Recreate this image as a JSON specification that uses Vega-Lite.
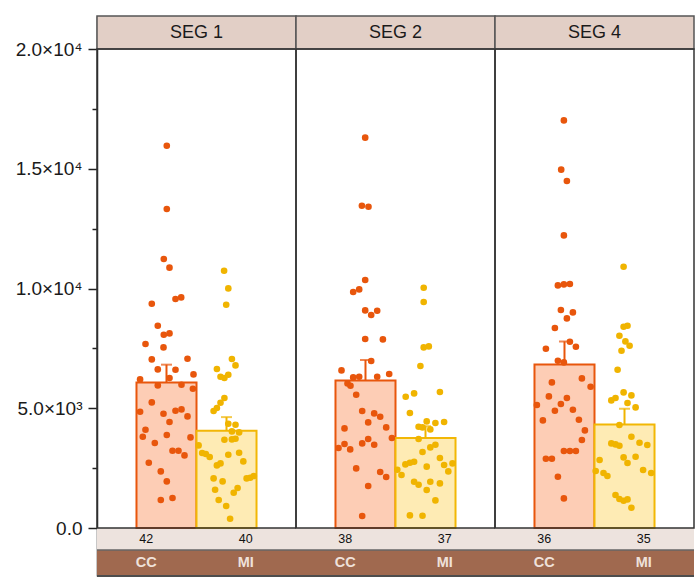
{
  "$schema": "https://vega.github.io/schema/vega-lite/v6.json",
  "padding": {"left": 15, "top": 15, "right": 2, "bottom": 5},
  "background": "white",
  "config": {"view": {"stroke": null}, "font": "Liberation Sans"},
  "data": {"values": [
    {"k":"s","seg":"SEG 1","g":"CC","mean":6080,"top":6820,"n":42},
    {"k":"s","seg":"SEG 1","g":"MI","mean":4060,"top":4630,"n":40},
    {"k":"s","seg":"SEG 2","g":"CC","mean":6163,"top":7015,"n":38},
    {"k":"s","seg":"SEG 2","g":"MI","mean":3758,"top":4250,"n":37},
    {"k":"s","seg":"SEG 4","g":"CC","mean":6832,"top":7791,"n":36},
    {"k":"s","seg":"SEG 4","g":"MI","mean":4326,"top":4981,"n":35},
    {"k":"p","seg":"SEG 1","g":"CC","v":15962,"j":0.01},{"k":"p","seg":"SEG 1","g":"CC","v":13319,"j":0.01},{"k":"p","seg":"SEG 1","g":"CC","v":11232,"j":-0.09},{"k":"p","seg":"SEG 1","g":"CC","v":10869,"j":0.1},{"k":"p","seg":"SEG 1","g":"CC","v":9365,"j":-0.49},{"k":"p","seg":"SEG 1","g":"CC","v":9562,"j":0.3},{"k":"p","seg":"SEG 1","g":"CC","v":9629,"j":0.49},{"k":"p","seg":"SEG 1","g":"CC","v":8447,"j":-0.29},{"k":"p","seg":"SEG 1","g":"CC","v":8071,"j":-0.09},{"k":"p","seg":"SEG 1","g":"CC","v":8125,"j":0.1},{"k":"p","seg":"SEG 1","g":"CC","v":7683,"j":-0.7},{"k":"p","seg":"SEG 1","g":"CC","v":7541,"j":-0.1},{"k":"p","seg":"SEG 1","g":"CC","v":7040,"j":-0.49},{"k":"p","seg":"SEG 1","g":"CC","v":7069,"j":0.7},{"k":"p","seg":"SEG 1","g":"CC","v":6622,"j":-0.29},{"k":"p","seg":"SEG 1","g":"CC","v":6610,"j":0.3},{"k":"p","seg":"SEG 1","g":"CC","v":6413,"j":0.9},{"k":"p","seg":"SEG 1","g":"CC","v":6205,"j":-0.88},{"k":"p","seg":"SEG 1","g":"CC","v":6263,"j":0.1},{"k":"p","seg":"SEG 1","g":"CC","v":5954,"j":-0.29},{"k":"p","seg":"SEG 1","g":"CC","v":5983,"j":0.5},{"k":"p","seg":"SEG 1","g":"CC","v":5816,"j":0.88},{"k":"p","seg":"SEG 1","g":"CC","v":5244,"j":-0.49},{"k":"p","seg":"SEG 1","g":"CC","v":4856,"j":-0.88},{"k":"p","seg":"SEG 1","g":"CC","v":4772,"j":-0.1},{"k":"p","seg":"SEG 1","g":"CC","v":4898,"j":0.3},{"k":"p","seg":"SEG 1","g":"CC","v":4952,"j":0.5},{"k":"p","seg":"SEG 1","g":"CC","v":4660,"j":0.7},{"k":"p","seg":"SEG 1","g":"CC","v":4426,"j":0.1},{"k":"p","seg":"SEG 1","g":"CC","v":4104,"j":-0.7},{"k":"p","seg":"SEG 1","g":"CC","v":3812,"j":-0.79},{"k":"p","seg":"SEG 1","g":"CC","v":3883,"j":0.01},{"k":"p","seg":"SEG 1","g":"CC","v":3783,"j":0.8},{"k":"p","seg":"SEG 1","g":"CC","v":3549,"j":-0.39},{"k":"p","seg":"SEG 1","g":"CC","v":3228,"j":0.2},{"k":"p","seg":"SEG 1","g":"CC","v":3228,"j":0.4},{"k":"p","seg":"SEG 1","g":"CC","v":3032,"j":0.6},{"k":"p","seg":"SEG 1","g":"CC","v":2726,"j":-0.59},{"k":"p","seg":"SEG 1","g":"CC","v":2363,"j":-0.19},{"k":"p","seg":"SEG 1","g":"CC","v":1946,"j":0.01},{"k":"p","seg":"SEG 1","g":"CC","v":1169,"j":-0.19},{"k":"p","seg":"SEG 1","g":"CC","v":1253,"j":0.2},
    {"k":"p","seg":"SEG 1","g":"MI","v":10743,"j":-0.08},{"k":"p","seg":"SEG 1","g":"MI","v":10005,"j":0.06},{"k":"p","seg":"SEG 1","g":"MI","v":9324,"j":-0.01},{"k":"p","seg":"SEG 1","g":"MI","v":7056,"j":0.18},{"k":"p","seg":"SEG 1","g":"MI","v":6790,"j":0.3},{"k":"p","seg":"SEG 1","g":"MI","v":6639,"j":-0.32},{"k":"p","seg":"SEG 1","g":"MI","v":6317,"j":-0.2},{"k":"p","seg":"SEG 1","g":"MI","v":6263,"j":-0.07},{"k":"p","seg":"SEG 1","g":"MI","v":6401,"j":0.06},{"k":"p","seg":"SEG 1","g":"MI","v":5428,"j":-0.07},{"k":"p","seg":"SEG 1","g":"MI","v":5232,"j":-0.2},{"k":"p","seg":"SEG 1","g":"MI","v":5010,"j":-0.32},{"k":"p","seg":"SEG 1","g":"MI","v":4885,"j":-0.43},{"k":"p","seg":"SEG 1","g":"MI","v":4355,"j":0.06},{"k":"p","seg":"SEG 1","g":"MI","v":4313,"j":0.3},{"k":"p","seg":"SEG 1","g":"MI","v":4033,"j":0.18},{"k":"p","seg":"SEG 1","g":"MI","v":3992,"j":0.42},{"k":"p","seg":"SEG 1","g":"MI","v":3687,"j":-0.07},{"k":"p","seg":"SEG 1","g":"MI","v":3700,"j":0.18},{"k":"p","seg":"SEG 1","g":"MI","v":3729,"j":0.3},{"k":"p","seg":"SEG 1","g":"MI","v":3449,"j":-0.93},{"k":"p","seg":"SEG 1","g":"MI","v":3131,"j":-0.81},{"k":"p","seg":"SEG 1","g":"MI","v":3090,"j":-0.69},{"k":"p","seg":"SEG 1","g":"MI","v":2965,"j":-0.56},{"k":"p","seg":"SEG 1","g":"MI","v":3061,"j":0.06},{"k":"p","seg":"SEG 1","g":"MI","v":3144,"j":0.42},{"k":"p","seg":"SEG 1","g":"MI","v":2781,"j":0.56},{"k":"p","seg":"SEG 1","g":"MI","v":2614,"j":-0.32},{"k":"p","seg":"SEG 1","g":"MI","v":2698,"j":-0.2},{"k":"p","seg":"SEG 1","g":"MI","v":2071,"j":0.67},{"k":"p","seg":"SEG 1","g":"MI","v":2100,"j":0.79},{"k":"p","seg":"SEG 1","g":"MI","v":2171,"j":0.91},{"k":"p","seg":"SEG 1","g":"MI","v":2071,"j":-0.43},{"k":"p","seg":"SEG 1","g":"MI","v":1946,"j":-0.13},{"k":"p","seg":"SEG 1","g":"MI","v":1599,"j":-0.38},{"k":"p","seg":"SEG 1","g":"MI","v":1670,"j":0.37},{"k":"p","seg":"SEG 1","g":"MI","v":1474,"j":0.24},{"k":"p","seg":"SEG 1","g":"MI","v":1169,"j":-0.26},{"k":"p","seg":"SEG 1","g":"MI","v":919,"j":-0.01},{"k":"p","seg":"SEG 1","g":"MI","v":388,"j":0.12},
    {"k":"p","seg":"SEG 2","g":"CC","v":16297,"j":-0.01},{"k":"p","seg":"SEG 2","g":"CC","v":13457,"j":-0.12},{"k":"p","seg":"SEG 2","g":"CC","v":13415,"j":0.1},{"k":"p","seg":"SEG 2","g":"CC","v":10355,"j":-0.01},{"k":"p","seg":"SEG 2","g":"CC","v":9854,"j":-0.41},{"k":"p","seg":"SEG 2","g":"CC","v":9963,"j":-0.21},{"k":"p","seg":"SEG 2","g":"CC","v":9086,"j":-0.01},{"k":"p","seg":"SEG 2","g":"CC","v":8893,"j":0.19},{"k":"p","seg":"SEG 2","g":"CC","v":9073,"j":0.39},{"k":"p","seg":"SEG 2","g":"CC","v":7891,"j":-0.01},{"k":"p","seg":"SEG 2","g":"CC","v":7875,"j":0.58},{"k":"p","seg":"SEG 2","g":"CC","v":6973,"j":0.19},{"k":"p","seg":"SEG 2","g":"CC","v":6580,"j":-0.8},{"k":"p","seg":"SEG 2","g":"CC","v":6288,"j":-0.41},{"k":"p","seg":"SEG 2","g":"CC","v":6317,"j":-0.21},{"k":"p","seg":"SEG 2","g":"CC","v":6317,"j":0.39},{"k":"p","seg":"SEG 2","g":"CC","v":6430,"j":0.79},{"k":"p","seg":"SEG 2","g":"CC","v":6038,"j":-0.6},{"k":"p","seg":"SEG 2","g":"CC","v":5942,"j":-0.5},{"k":"p","seg":"SEG 2","g":"CC","v":5566,"j":-0.31},{"k":"p","seg":"SEG 2","g":"CC","v":4885,"j":-0.11},{"k":"p","seg":"SEG 2","g":"CC","v":4785,"j":0.29},{"k":"p","seg":"SEG 2","g":"CC","v":4647,"j":0.49},{"k":"p","seg":"SEG 2","g":"CC","v":4409,"j":0.09},{"k":"p","seg":"SEG 2","g":"CC","v":4200,"j":0.69},{"k":"p","seg":"SEG 2","g":"CC","v":4159,"j":-0.7},{"k":"p","seg":"SEG 2","g":"CC","v":3758,"j":0.88},{"k":"p","seg":"SEG 2","g":"CC","v":3716,"j":0.09},{"k":"p","seg":"SEG 2","g":"CC","v":3532,"j":-0.11},{"k":"p","seg":"SEG 2","g":"CC","v":3478,"j":0.29},{"k":"p","seg":"SEG 2","g":"CC","v":3507,"j":-0.7},{"k":"p","seg":"SEG 2","g":"CC","v":3340,"j":-0.9},{"k":"p","seg":"SEG 2","g":"CC","v":3282,"j":-0.51},{"k":"p","seg":"SEG 2","g":"CC","v":2488,"j":-0.31},{"k":"p","seg":"SEG 2","g":"CC","v":2338,"j":0.49},{"k":"p","seg":"SEG 2","g":"CC","v":2129,"j":0.69},{"k":"p","seg":"SEG 2","g":"CC","v":1754,"j":0.09},{"k":"p","seg":"SEG 2","g":"CC","v":501,"j":-0.11},
    {"k":"p","seg":"SEG 2","g":"MI","v":10033,"j":-0.06},{"k":"p","seg":"SEG 2","g":"MI","v":9436,"j":-0.06},{"k":"p","seg":"SEG 2","g":"MI","v":7541,"j":-0.06},{"k":"p","seg":"SEG 2","g":"MI","v":7583,"j":0.11},{"k":"p","seg":"SEG 2","g":"MI","v":6764,"j":-0.17},{"k":"p","seg":"SEG 2","g":"MI","v":5482,"j":-0.66},{"k":"p","seg":"SEG 2","g":"MI","v":5620,"j":-0.38},{"k":"p","seg":"SEG 2","g":"MI","v":5678,"j":0.48},{"k":"p","seg":"SEG 2","g":"MI","v":4802,"j":-0.52},{"k":"p","seg":"SEG 2","g":"MI","v":4230,"j":-0.23},{"k":"p","seg":"SEG 2","g":"MI","v":4451,"j":0.04},{"k":"p","seg":"SEG 2","g":"MI","v":4384,"j":0.33},{"k":"p","seg":"SEG 2","g":"MI","v":4426,"j":0.62},{"k":"p","seg":"SEG 2","g":"MI","v":4200,"j":-0.1},{"k":"p","seg":"SEG 2","g":"MI","v":4117,"j":0.16},{"k":"p","seg":"SEG 2","g":"MI","v":3716,"j":-0.23},{"k":"p","seg":"SEG 2","g":"MI","v":3478,"j":0.33},{"k":"p","seg":"SEG 2","g":"MI","v":3365,"j":0.16},{"k":"p","seg":"SEG 2","g":"MI","v":3173,"j":-0.1},{"k":"p","seg":"SEG 2","g":"MI","v":2923,"j":0.48},{"k":"p","seg":"SEG 2","g":"MI","v":2768,"j":-0.38},{"k":"p","seg":"SEG 2","g":"MI","v":2726,"j":-0.52},{"k":"p","seg":"SEG 2","g":"MI","v":2655,"j":-0.67},{"k":"p","seg":"SEG 2","g":"MI","v":2560,"j":0.04},{"k":"p","seg":"SEG 2","g":"MI","v":2630,"j":0.62},{"k":"p","seg":"SEG 2","g":"MI","v":2698,"j":0.9},{"k":"p","seg":"SEG 2","g":"MI","v":2363,"j":0.76},{"k":"p","seg":"SEG 2","g":"MI","v":2434,"j":-0.94},{"k":"p","seg":"SEG 2","g":"MI","v":2213,"j":-0.8},{"k":"p","seg":"SEG 2","g":"MI","v":1933,"j":-0.38},{"k":"p","seg":"SEG 2","g":"MI","v":1808,"j":-0.23},{"k":"p","seg":"SEG 2","g":"MI","v":1933,"j":0.16},{"k":"p","seg":"SEG 2","g":"MI","v":1862,"j":0.48},{"k":"p","seg":"SEG 2","g":"MI","v":1587,"j":0.04},{"k":"p","seg":"SEG 2","g":"MI","v":1152,"j":0.33},{"k":"p","seg":"SEG 2","g":"MI","v":526,"j":-0.52},{"k":"p","seg":"SEG 2","g":"MI","v":514,"j":-0.1},
    {"k":"p","seg":"SEG 4","g":"CC","v":17019,"j":-0.02},{"k":"p","seg":"SEG 4","g":"CC","v":14961,"j":-0.11},{"k":"p","seg":"SEG 4","g":"CC","v":14489,"j":0.08},{"k":"p","seg":"SEG 4","g":"CC","v":12217,"j":-0.02},{"k":"p","seg":"SEG 4","g":"CC","v":10130,"j":-0.22},{"k":"p","seg":"SEG 4","g":"CC","v":10172,"j":-0.02},{"k":"p","seg":"SEG 4","g":"CC","v":10188,"j":0.18},{"k":"p","seg":"SEG 4","g":"CC","v":9102,"j":-0.12},{"k":"p","seg":"SEG 4","g":"CC","v":9002,"j":0.28},{"k":"p","seg":"SEG 4","g":"CC","v":8752,"j":0.08},{"k":"p","seg":"SEG 4","g":"CC","v":8351,"j":-0.32},{"k":"p","seg":"SEG 4","g":"CC","v":7486,"j":-0.62},{"k":"p","seg":"SEG 4","g":"CC","v":7779,"j":0.18},{"k":"p","seg":"SEG 4","g":"CC","v":7570,"j":0.38},{"k":"p","seg":"SEG 4","g":"CC","v":6985,"j":-0.22},{"k":"p","seg":"SEG 4","g":"CC","v":6914,"j":-0.02},{"k":"p","seg":"SEG 4","g":"CC","v":6246,"j":0.58},{"k":"p","seg":"SEG 4","g":"CC","v":5900,"j":0.87},{"k":"p","seg":"SEG 4","g":"CC","v":6079,"j":-0.42},{"k":"p","seg":"SEG 4","g":"CC","v":5495,"j":-0.52},{"k":"p","seg":"SEG 4","g":"CC","v":5428,"j":0.08},{"k":"p","seg":"SEG 4","g":"CC","v":5136,"j":-0.92},{"k":"p","seg":"SEG 4","g":"CC","v":5177,"j":-0.12},{"k":"p","seg":"SEG 4","g":"CC","v":4898,"j":-0.32},{"k":"p","seg":"SEG 4","g":"CC","v":4939,"j":0.28},{"k":"p","seg":"SEG 4","g":"CC","v":4493,"j":-0.72},{"k":"p","seg":"SEG 4","g":"CC","v":4522,"j":0.48},{"k":"p","seg":"SEG 4","g":"CC","v":4075,"j":0.68},{"k":"p","seg":"SEG 4","g":"CC","v":3674,"j":0.58},{"k":"p","seg":"SEG 4","g":"CC","v":3215,"j":-0.02},{"k":"p","seg":"SEG 4","g":"CC","v":3215,"j":0.18},{"k":"p","seg":"SEG 4","g":"CC","v":3215,"j":0.38},{"k":"p","seg":"SEG 4","g":"CC","v":2894,"j":-0.62},{"k":"p","seg":"SEG 4","g":"CC","v":2894,"j":-0.42},{"k":"p","seg":"SEG 4","g":"CC","v":2142,"j":-0.22},{"k":"p","seg":"SEG 4","g":"CC","v":1236,"j":-0.02},
    {"k":"p","seg":"SEG 4","g":"MI","v":10910,"j":-0.03},{"k":"p","seg":"SEG 4","g":"MI","v":8405,"j":-0.03},{"k":"p","seg":"SEG 4","g":"MI","v":8447,"j":0.1},{"k":"p","seg":"SEG 4","g":"MI","v":8029,"j":-0.17},{"k":"p","seg":"SEG 4","g":"MI","v":7791,"j":0.03},{"k":"p","seg":"SEG 4","g":"MI","v":7612,"j":0.17},{"k":"p","seg":"SEG 4","g":"MI","v":7403,"j":-0.1},{"k":"p","seg":"SEG 4","g":"MI","v":6610,"j":-0.23},{"k":"p","seg":"SEG 4","g":"MI","v":5328,"j":-0.44},{"k":"p","seg":"SEG 4","g":"MI","v":5428,"j":-0.3},{"k":"p","seg":"SEG 4","g":"MI","v":5662,"j":-0.03},{"k":"p","seg":"SEG 4","g":"MI","v":5537,"j":0.23},{"k":"p","seg":"SEG 4","g":"MI","v":5219,"j":0.1},{"k":"p","seg":"SEG 4","g":"MI","v":5036,"j":0.37},{"k":"p","seg":"SEG 4","g":"MI","v":4301,"j":-0.17},{"k":"p","seg":"SEG 4","g":"MI","v":3812,"j":0.23},{"k":"p","seg":"SEG 4","g":"MI","v":3562,"j":0.5},{"k":"p","seg":"SEG 4","g":"MI","v":3465,"j":0.76},{"k":"p","seg":"SEG 4","g":"MI","v":3532,"j":-0.44},{"k":"p","seg":"SEG 4","g":"MI","v":3490,"j":-0.3},{"k":"p","seg":"SEG 4","g":"MI","v":3436,"j":-0.17},{"k":"p","seg":"SEG 4","g":"MI","v":2948,"j":-0.03},{"k":"p","seg":"SEG 4","g":"MI","v":2977,"j":0.37},{"k":"p","seg":"SEG 4","g":"MI","v":2714,"j":0.1},{"k":"p","seg":"SEG 4","g":"MI","v":2839,"j":-0.83},{"k":"p","seg":"SEG 4","g":"MI","v":2380,"j":-0.96},{"k":"p","seg":"SEG 4","g":"MI","v":2296,"j":-0.7},{"k":"p","seg":"SEG 4","g":"MI","v":2171,"j":-0.57},{"k":"p","seg":"SEG 4","g":"MI","v":2422,"j":0.62},{"k":"p","seg":"SEG 4","g":"MI","v":2296,"j":0.89},{"k":"p","seg":"SEG 4","g":"MI","v":1378,"j":-0.3},{"k":"p","seg":"SEG 4","g":"MI","v":1211,"j":-0.17},{"k":"p","seg":"SEG 4","g":"MI","v":1140,"j":-0.03},{"k":"p","seg":"SEG 4","g":"MI","v":1194,"j":0.1},{"k":"p","seg":"SEG 4","g":"MI","v":848,"j":0.23}
  ]},
  "facet": {"column": {"field": "seg", "type": "nominal", "sort": ["SEG 1", "SEG 2", "SEG 4"], "header": {"title": null, "labels": false, "labelPadding": 0, "titlePadding": 0}}},
  "spacing": 0,
  "bounds": "flush",
  "spec": {
    "width": 199,
    "height": 560,
    "resolve": {"scale": {"xOffset": "independent"}},
    "layer": [
      {
        "transform": [{"filter": "datum.k === 's' && datum.g === 'CC'"}],
        "mark": {"type": "rect", "fill": "#e2cfc6", "stroke": "#555555", "strokeWidth": 1.5},
        "encoding": {
          "y": {"datum": 20000, "type": "quantitative", "title": null,
            "scale": {"domain": [-2004, 21378], "nice": false, "zero": false},
            "axis": {"title": null, "values": [0, 2500, 5000, 7500, 10000, 12500, 15000, 17500, 20000],
              "labelExpr": "datum.value == 0 ? '0.0' : datum.value == 5000 ? '5.0×10³' : datum.value == 10000 ? '1.0×10⁴' : datum.value == 15000 ? '1.5×10⁴' : datum.value == 20000 ? '2.0×10⁴' : ''",
              "labelFontSize": 19, "labelColor": "#1a1a1a", "labelPadding": 6, "labelFont": "Liberation Sans",
              "tickSize": {"condition": {"test": "datum.value % 5000 === 0", "value": 9}, "value": 5},
              "tickWidth": 1.5, "tickColor": "#222222", "domainColor": "#222222", "domainWidth": 1.5, "grid": false}},
          "y2": {"datum": 21378}
        }
      },
      {
        "transform": [{"filter": "datum.k === 's' && datum.g === 'CC'"}],
        "mark": {"type": "text", "fontSize": 18, "color": "#1a1a1a", "baseline": "middle"},
        "encoding": {"y": {"datum": 20689, "type": "quantitative", "title": null}, "text": {"field": "seg"}}
      },
      {
        "transform": [{"filter": "datum.k === 's' && datum.g === 'CC'"}],
        "mark": {"type": "rect", "fill": "#ede3de"},
        "encoding": {"y": {"datum": 0, "type": "quantitative", "title": null}, "y2": {"datum": -919}}
      },
      {
        "transform": [{"filter": "datum.k === 's' && datum.g === 'CC'"}],
        "mark": {"type": "rect", "fill": "#a0694f"},
        "encoding": {"y": {"datum": -919, "type": "quantitative", "title": null}, "y2": {"datum": -2004}}
      },
      {
        "transform": [{"filter": "datum.k === 's' && datum.g === 'CC'"}],
        "mark": {"type": "rule", "color": "#666666", "strokeWidth": 1.5},
        "encoding": {"y": {"datum": -919, "type": "quantitative", "title": null}}
      },
      {
        "transform": [{"filter": "datum.k === 's' && datum.g === 'CC'"}],
        "mark": {"type": "rule", "color": "#4d4d4d", "strokeWidth": 2},
        "encoding": {"y": {"datum": -2004, "type": "quantitative", "title": null}}
      },
      {
        "transform": [{"filter": "datum.k === 's'"}],
        "mark": {"type": "bar", "strokeWidth": 2},
        "encoding": {
          "x": {"field": "g", "type": "nominal", "axis": null, "scale": {"type": "band", "domain": ["CC", "MI"], "paddingInner": 0, "paddingOuter": 0.658}},
          "y": {"field": "mean", "type": "quantitative", "title": null},
          "fill": {"field": "g", "type": "nominal", "legend": null, "scale": {"domain": ["CC", "MI"], "range": ["#fdcdb5", "#feebb4"]}},
          "stroke": {"field": "g", "type": "nominal", "legend": null, "scale": {"domain": ["CC", "MI"], "range": ["#e8560c", "#f2b705"]}}
        }
      },
      {
        "transform": [{"filter": "datum.k === 's'"}],
        "mark": {"type": "rule", "strokeWidth": 2},
        "encoding": {
          "x": {"field": "g", "type": "nominal", "axis": null, "scale": {"type": "band", "domain": ["CC", "MI"], "paddingInner": 0, "paddingOuter": 0.658}},
          "y": {"field": "mean", "type": "quantitative", "title": null},
          "y2": {"field": "top"},
          "color": {"field": "g", "type": "nominal", "legend": null, "scale": {"domain": ["CC", "MI"], "range": ["#e8560c", "#f0b400"]}}
        }
      },
      {
        "transform": [{"filter": "datum.k === 's'"}],
        "mark": {"type": "tick", "orient": "horizontal", "size": 11, "thickness": 2},
        "encoding": {
          "x": {"field": "g", "type": "nominal", "axis": null, "scale": {"type": "band", "domain": ["CC", "MI"], "paddingInner": 0, "paddingOuter": 0.658}},
          "y": {"field": "top", "type": "quantitative", "title": null},
          "color": {"field": "g", "type": "nominal", "legend": null, "scale": {"domain": ["CC", "MI"], "range": ["#e8560c", "#f0b400"]}}
        }
      },
      {
        "transform": [{"filter": "datum.k === 'p'"}],
        "mark": {"type": "circle", "size": 44, "opacity": 1},
        "encoding": {
          "x": {"field": "g", "type": "nominal", "axis": null, "scale": {"type": "band", "domain": ["CC", "MI"], "paddingInner": 0, "paddingOuter": 0.658}},
          "xOffset": {"field": "j", "type": "quantitative", "scale": {"domain": [-1, 1]}},
          "y": {"field": "v", "type": "quantitative", "title": null},
          "color": {"field": "g", "type": "nominal", "legend": null, "scale": {"domain": ["CC", "MI"], "range": ["#e8560c", "#f0b400"]}}
        }
      },
      {
        "transform": [{"filter": "datum.k === 's'"}],
        "mark": {"type": "text", "fontSize": 12.5, "color": "#111111", "baseline": "middle"},
        "encoding": {
          "x": {"field": "g", "type": "nominal", "axis": null, "scale": {"type": "band", "domain": ["CC", "MI"], "paddingInner": 0, "paddingOuter": 0.658}},
          "xOffset": {"field": "g", "type": "nominal", "scale": {"domain": ["CC", "MI"], "range": [-10, 69]}},
          "y": {"datum": -460, "type": "quantitative", "title": null},
          "text": {"field": "n"}
        }
      },
      {
        "transform": [{"filter": "datum.k === 's'"}],
        "mark": {"type": "text", "fontSize": 14.5, "fontWeight": "bold", "color": "#efe1da", "baseline": "middle"},
        "encoding": {
          "x": {"field": "g", "type": "nominal", "axis": null, "scale": {"type": "band", "domain": ["CC", "MI"], "paddingInner": 0, "paddingOuter": 0.658}},
          "xOffset": {"field": "g", "type": "nominal", "scale": {"domain": ["CC", "MI"], "range": [-10, 69]}},
          "y": {"datum": -1470, "type": "quantitative", "title": null},
          "text": {"field": "g"}
        }
      },
      {
        "transform": [{"filter": "datum.k === 's' && datum.g === 'CC'"}],
        "mark": {"type": "rect", "fillOpacity": 0, "stroke": "#333333", "strokeWidth": 1.5},
        "encoding": {"y": {"datum": 0, "type": "quantitative", "title": null}, "y2": {"datum": 20000}}
      }
    ]
  }
}
